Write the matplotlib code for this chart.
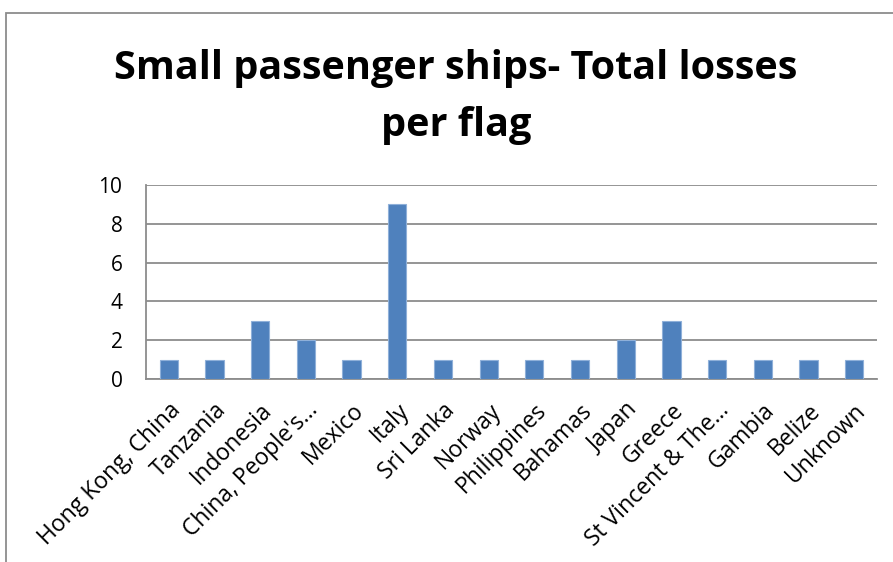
import matplotlib

matplotlib.use("Agg")
import matplotlib.pyplot as plt  # noqa: E402
from matplotlib.patches import Rectangle  # noqa: E402

flags = [
    "Hong Kong, China",
    "Tanzania",
    "Indonesia",
    "China, People's\u2026",
    "Mexico",
    "Italy",
    "Sri Lanka",
    "Norway",
    "Philippines",
    "Bahamas",
    "Japan",
    "Greece",
    "St Vincent & The\u2026",
    "Gambia",
    "Belize",
    "Unknown",
]
losses = [1, 1, 3, 2, 1, 9, 1, 1, 1, 1, 2, 3, 1, 1, 1, 1]
y_ticks = [0, 2, 4, 6, 8, 10]

plt.rcParams["font.family"] = ["Open Sans", "DejaVu Sans"]

W, H = 893, 562
fig = plt.figure(figsize=(W / 100, H / 100), dpi=100)
fig.patch.set_facecolor("white")

# chart frame (cut off at right and bottom)
fig.patches.append(
    Rectangle((6 / W, -0.05), 1.1, 1.05 - 13 / H, transform=fig.transFigure,
              fill=False, edgecolor="#8c8c8c", linewidth=1.3)
)

left, right, top, bottom = 146, 877, 185, 379
ax = fig.add_axes([left / W, 1 - bottom / H, (right - left) / W, (bottom - top) / H])

x = range(len(flags))
ax.bar(x, losses, width=0.4, color="#4f81bd", edgecolor="#8fb0d9", linewidth=0.8, zorder=3)

ax.set_xlim(-0.5, len(flags) - 0.5)
ax.set_ylim(0, 10)
ax.set_yticks(y_ticks)
ax.set_yticklabels([str(v) for v in y_ticks], fontsize=15)
ax.set_xticks(list(x))
ax.set_xticklabels(flags, rotation=45, ha="right", rotation_mode="anchor", fontsize=16.5)
ax.tick_params(axis="both", length=0, colors="black")
ax.tick_params(axis="y", pad=17)
ax.tick_params(axis="x", pad=14)
ax.grid(axis="y", color="#8c8c8c", linewidth=1.3, zorder=0)
for side in ("top", "right"):
    ax.spines[side].set_visible(False)
ax.spines["left"].set_color("#8c8c8c")
ax.spines["left"].set_linewidth(1.3)
ax.spines["bottom"].set_color("#8c8c8c")
ax.spines["bottom"].set_linewidth(1.3)

fig.text(
    456 / W, 1 - 97 / H,
    "Small passenger ships- Total losses\nper flag",
    ha="center", va="center", fontsize=28.5, fontweight="bold", linespacing=1.6,
)

fig.savefig("out.png", dpi=100)
